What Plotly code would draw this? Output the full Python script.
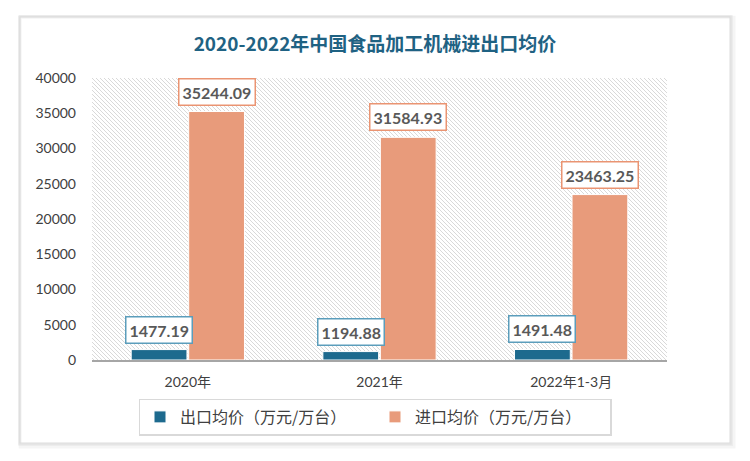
import base64
import plotly.graph_objects as go

categories = ["2020年", "2021年", "2022年1-3月"]
export_vals = [1477.19, 1194.88, 1491.48]
import_vals = [35244.09, 31584.93, 23463.25]
series_names = ["出口均价（万元/万台）", "进口均价（万元/万台）"]
title_text = "2020-2022年中国食品加工机械进出口均价"
y_ticks = [0, 5000, 10000, 15000, 20000, 25000, 30000, 35000, 40000]

EXP_C = "#1d6a8e"
IMP_C = "#e89b7b"
EXP_B = "#5b9dbb"
IMP_B = "#ea9472"

W, H = 750, 461
L, R, T, B = 92, 83, 78, 101
PW, PH = W - L - R, H - T - B

def px(x):
    return (x - L) / PW

def py(y):
    return (H - B - y) / PH

svg = (
    f'<svg xmlns="http://www.w3.org/2000/svg" width="{PW}" height="{PH}">'
    '<defs><pattern id="p" width="4" height="4" patternUnits="userSpaceOnUse">'
    '<path d="M-1,-1 L1,1 M0,0 L4,4 M3,3 L5,5" stroke="#d9d9d9" stroke-width="1"/>'
    '</pattern></defs><rect width="100%" height="100%" fill="url(#p)"/></svg>'
)
svg_uri = "data:image/svg+xml;base64," + base64.b64encode(svg.encode()).decode()

fig = go.Figure()
fig.add_trace(go.Bar(
    x=categories, y=export_vals, name=series_names[0],
    marker=dict(color=EXP_C, line=dict(color="white", width=1)),
))
fig.add_trace(go.Bar(
    x=categories, y=import_vals, name=series_names[1],
    marker=dict(color=IMP_C, line=dict(color="white", width=1)),
))

lab_font = dict(family="Lato, Noto Sans CJK SC, sans-serif", size=16, color="#595959")
offset_px = 0.15 * PW / 3
for i, c in enumerate(categories):
    fig.add_annotation(x=c, y=export_vals[i], text=f"<b>{export_vals[i]:.2f}</b>",
                       showarrow=False, xshift=-offset_px, yshift=6, yanchor="bottom",
                       font=lab_font, bgcolor="white", bordercolor=EXP_B,
                       borderwidth=1.5, borderpad=3)
    fig.add_annotation(x=c, y=import_vals[i], text=f"<b>{import_vals[i]:.2f}</b>",
                       showarrow=False, xshift=offset_px, yshift=6, yanchor="bottom",
                       font=lab_font, bgcolor="white", bordercolor=IMP_B,
                       borderwidth=1.5, borderpad=3)

# card with soft shadow
cx0, cx1, cy0, cy1 = 20, 730, 17, 443
for d, col, w in [(4, "#f5f5f5", 3), (2, "#ececec", 2), (1, "#e2e2e2", 1.5)]:
    fig.add_shape(type="rect", xref="paper", yref="paper", layer="below",
                  x0=px(cx0 - 1 + d * 0.3), x1=px(cx1 + d), y0=py(cy1 + d), y1=py(cy0 - 1 + d * 0.3),
                  line=dict(color=col, width=w), fillcolor="rgba(0,0,0,0)")
fig.add_shape(type="rect", xref="paper", yref="paper", layer="below",
              x0=px(cx0), x1=px(cx1), y0=py(cy1), y1=py(cy0),
              line=dict(color="#dcdcdc", width=1), fillcolor="rgba(0,0,0,0)")

fig.add_layout_image(source=svg_uri, xref="paper", yref="paper", x=0, y=1,
                     sizex=1, sizey=1, xanchor="left", yanchor="top",
                     sizing="stretch", layer="below")

fig.update_layout(
    width=W, height=H,
    margin=dict(l=L, r=R, t=T, b=B),
    paper_bgcolor="white", plot_bgcolor="rgba(0,0,0,0)",
    barmode="group", bargap=0.4, bargroupgap=0.03,
    title=dict(text=title_text, x=0.5, xref="container", xanchor="center",
               y=1 - 44 / H, yref="container", yanchor="middle",
               font=dict(family="Noto Sans CJK SC, sans-serif", size=19, color="#1f6283", weight="bold")),
    xaxis=dict(showgrid=False, showline=True, linecolor="#a6a6a6", linewidth=1.5,
               ticks="", ticklabelstandoff=8,
               tickfont=dict(family="Lato, Noto Sans CJK SC, sans-serif", size=14, color="#404040")),
    yaxis=dict(range=[0, 40000], tickvals=y_ticks, tickformat="d", showgrid=False, zeroline=False,
               showline=False, ticks="", ticklabelstandoff=15,
               tickfont=dict(family="Lato, Noto Sans CJK SC, sans-serif", size=14, color="#404040")),
    legend=dict(orientation="h", x=px(375), xanchor="center", y=py(417), yanchor="middle",
                bordercolor="#d9d9d9", borderwidth=1.5, bgcolor="white",
                itemwidth=30, entrywidth=190, entrywidthmode="pixels",
                font=dict(family="Noto Sans CJK SC, sans-serif", size=16, color="#404040")),
    showlegend=True,
)

fig.write_html("out.html", config={"displayModeBar": False},
               post_script="document.body.style.margin='0px';")
